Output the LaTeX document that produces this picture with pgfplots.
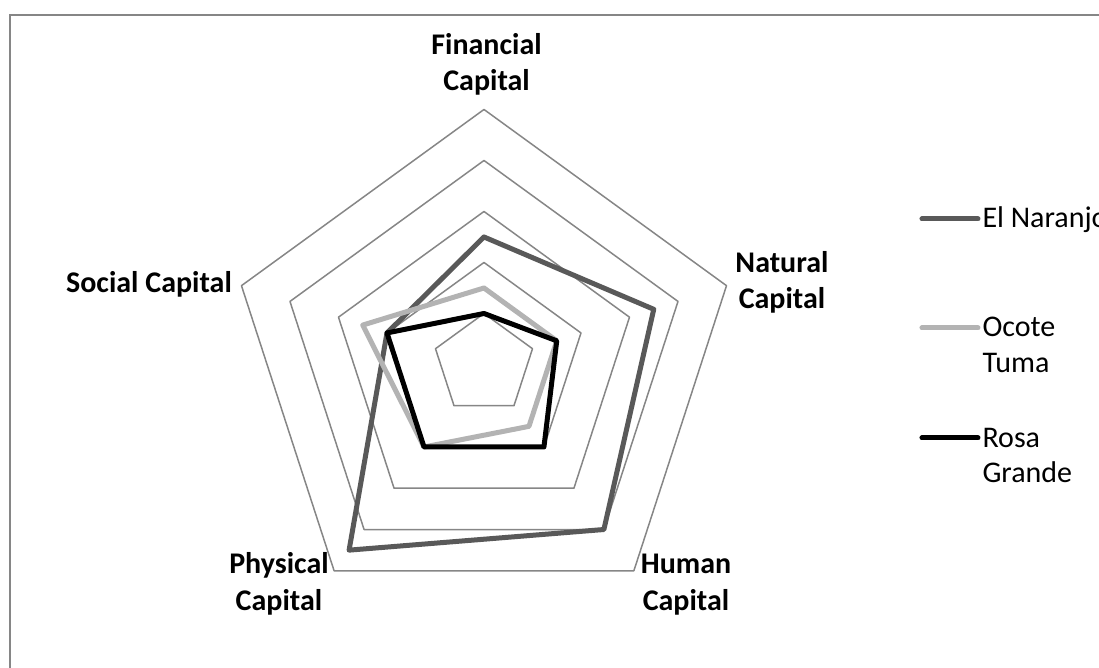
\documentclass[border=0pt]{standalone}
\usepackage{fontspec}
\setmainfont{Carlito}
\usepackage{pgfplots}
\pgfplotsset{compat=1.18}

\definecolor{naranjo}{HTML}{595959}
\definecolor{ocote}{HTML}{B3B3B3}
\definecolor{ring}{HTML}{868686}

\tikzset{
  lbl/.style={font=\fontsize{12}{14}\selectfont\bfseries, anchor=base, inner sep=0pt},
  leg/.style={font=\fontsize{12}{14}\selectfont, anchor=base west, inner sep=0pt},
}

\begin{document}
\begin{tikzpicture}
\begin{axis}[
  hide axis,
  scale only axis,
  x=20.4pt, y=20.4pt,
  xmin=-9.490, xmax=12.059,
  ymin=-5.951, ymax=7.147,
  clip=false,
  every axis plot/.append style={data cs=polar, line join=round, line cap=round},
]
% pentagon rings
\pgfplotsinvokeforeach{1,...,5}{
  \addplot[ring, line width=0.6pt] coordinates {(90,#1) (18,#1) (-54,#1) (-126,#1) (162,#1) (90,#1)};
}
% series: Financial, Natural, Human, Physical, Social
\addplot[naranjo, line width=2pt] coordinates {(90,2.5) (18,3.5) (-54,4) (-126,4.5) (162,2) (90,2.5)};
\addplot[ocote, line width=2pt] coordinates {(90,1.5) (18,1.5) (-54,1.5) (-126,2) (162,2.5) (90,1.5)};
\addplot[black, line width=2pt] coordinates {(90,1) (18,1.5) (-54,2) (-126,2) (162,2) (90,1)};

% category labels
\node[lbl] at (axis cs:0.05,6.07) {Financial};
\node[lbl] at (axis cs:0.05,5.38) {Capital};
\node[lbl] at (axis cs:5.843,1.794) {Natural};
\node[lbl] at (axis cs:5.843,1.088) {Capital};
\node[lbl] at (axis cs:-6.569,1.402) {Social Capital};
\node[lbl] at (axis cs:-4.02,-4.108) {Physical};
\node[lbl] at (axis cs:-4.02,-4.833) {Capital};
\node[lbl] at (axis cs:3.961,-4.108) {Human};
\node[lbl] at (axis cs:3.961,-4.833) {Capital};

% legend
\draw[naranjo, line width=2pt, line cap=round] (axis cs:8.588,2.853) -- (axis cs:9.686,2.853);
\draw[ocote, line width=2pt, line cap=round] (axis cs:8.588,0.716) -- (axis cs:9.686,0.716);
\draw[black, line width=2pt, line cap=round] (axis cs:8.588,-1.441) -- (axis cs:9.686,-1.441);
\node[leg] at (axis cs:9.765,2.676) {El Naranjo};
\node[leg] at (axis cs:9.765,0.539) {Ocote};
\node[leg] at (axis cs:9.765,-0.167) {Tuma};
\node[leg] at (axis cs:9.765,-1.637) {Rosa};
\node[leg] at (axis cs:9.765,-2.324) {Grande};

% chart frame (top and left edges visible)
\draw[ring, line width=0.6pt] (axis cs:12.2,6.853) -- (axis cs:-9.294,6.853) -- (axis cs:-9.294,-6.1);
\end{axis}
\pgfresetboundingbox
\path[use as bounding box] (current axis.south west) rectangle (current axis.north east);
\end{tikzpicture}
\end{document}
